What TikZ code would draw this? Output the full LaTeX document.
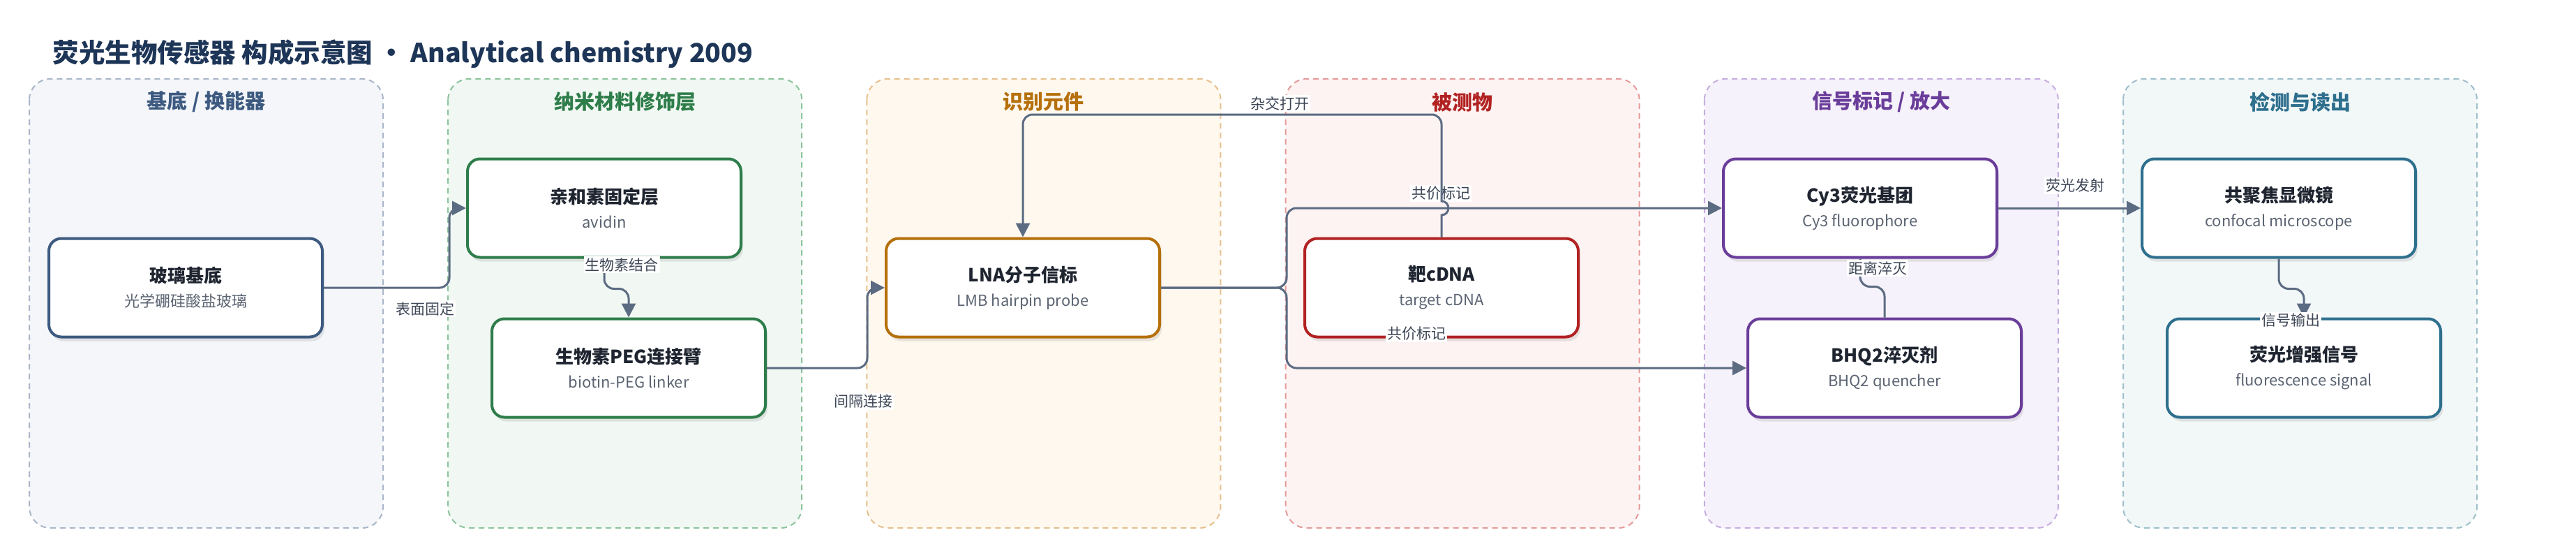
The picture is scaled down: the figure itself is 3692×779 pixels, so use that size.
\documentclass[tikz,border=0pt]{standalone}
\usepackage{fontspec}
\setmainfont{Noto Sans CJK SC}
\usetikzlibrary{arrows.meta,shadows}

\definecolor{ink}{HTML}{1D3557}
\definecolor{boxtext}{HTML}{1F2530}
\definecolor{subgray}{HTML}{5B6472}
\definecolor{linkcol}{HTML}{5B6B82}
\definecolor{labcol}{HTML}{3D4656}
\definecolor{c1}{HTML}{3D5A80}\definecolor{fill1}{HTML}{F4F6FA}\definecolor{line1}{HTML}{AAB6C8}
\definecolor{c2}{HTML}{2E7D4A}\definecolor{fill2}{HTML}{F1F8F3}\definecolor{line2}{HTML}{8CC49D}
\definecolor{c3}{HTML}{B5700B}\definecolor{fill3}{HTML}{FEF8EF}\definecolor{line3}{HTML}{E6C08D}
\definecolor{c4}{HTML}{B22222}\definecolor{fill4}{HTML}{FDF3F2}\definecolor{line4}{HTML}{E59A9A}
\definecolor{c5}{HTML}{6A3D9A}\definecolor{fill5}{HTML}{F6F2FB}\definecolor{line5}{HTML}{C6AEE0}
\definecolor{c6}{HTML}{2E6F8E}\definecolor{fill6}{HTML}{F2F7F8}\definecolor{line6}{HTML}{9FC0CC}

\newcommand{\boxtext}[2]{{\fontsize{26}{35}\selectfont\bfseries #1}\\{\color{subgray}#2}}

\begin{document}
\begin{tikzpicture}[x=1pt,y=-1pt,
  panel/.style={rounded corners=30pt, dash pattern=on 8pt off 6pt, line width=2pt},
  ptitle/.style={font=\fontsize{29}{34}\selectfont\bfseries},
  box/.style={draw, fill=white, line width=4pt, rounded corners=18pt, minimum width=392pt,
    minimum height=141pt, align=center, text=boxtext, font=\fontsize{22}{35}\selectfont,
    drop shadow={opacity=0.18, shadow xshift=3pt, shadow yshift=-6pt}},
  link/.style={draw=linkcol, line width=3pt, rounded corners=14pt},
  arr/.style={link, -{Triangle[length=20pt,width=20pt]}},
  elabel/.style={fill=white, text=labcol, font=\fontsize{21}{25}\selectfont, inner sep=2pt}]

\fill[white] (0,0) rectangle (3692,779);
\useasboundingbox (0,0) rectangle (3692,779);

\node[anchor=west, text=ink, font=\fontsize{37.5}{44}\selectfont\bfseries] (title) at (72,77)
  {荧光生物传感器 构成示意图 • Analytical chemistry 2009};

\foreach \ttl [count=\i] in {基底 / 换能器, 纳米材料修饰层, 识别元件, 被测物, 信号标记 / 放大, 检测与读出}
{
  \pgfmathsetmacro{\px}{42+600.2*(\i-1)}
  \draw[panel, fill=fill\i, draw=line\i] (\px,113) rectangle ++(507,643);
  \node[ptitle, text=c\i] (head\i) at (\px+253.5,146) {\ttl};
}

\node[box, draw=c1] (glass)    at (266,412)  {\boxtext{玻璃基底}{光学硼硅酸盐玻璃}};
\node[box, draw=c2] (avidin)   at (866,298)  {\boxtext{亲和素固定层}{avidin}};
\node[box, draw=c2] (biotin)   at (901,527)  {\boxtext{生物素PEG连接臂}{biotin-PEG linker}};
\node[box, draw=c3] (lna)      at (1466,412) {\boxtext{LNA分子信标}{LMB hairpin probe}};
\node[box, draw=c4] (target)   at (2066,412) {\boxtext{靶cDNA}{target cDNA}};
\node[box, draw=c5] (cy3)      at (2666,298) {\boxtext{Cy3荧光基团}{Cy3 fluorophore}};
\node[box, draw=c5] (bhq)      at (2701,527) {\boxtext{BHQ2淬灭剂}{BHQ2 quencher}};
\node[box, draw=c6] (confocal) at (3266,298) {\boxtext{共聚焦显微镜}{confocal microscope}};
\node[box, draw=c6] (signal)   at (3302,527) {\boxtext{荧光增强信号}{fluorescence signal}};

\draw[arr] (glass.east) -- ++(180,0) |- (avidin.west);
\draw[arr] (avidin.south) -- ++(0,43) -| (biotin.north);
\draw[arr] (biotin.east) -- ++(144,0) |- (lna.west);
\draw[arr] (lna.east) -- ++(180,0) |- (cy3.west);
\draw[arr] (lna.east) -- ++(180,0) |- (bhq.west);
\draw[arr] (cy3.east) -- (confocal.west);
\draw[link] (bhq.north) -- ++(0,-44) -| (cy3.south);
\draw[arr] (confocal.south) -- ++(0,43) -| (signal.north);

\node[elabel] (l1) at (609,442)  {表面固定};
\node[elabel] (l2) at (891,379)  {生物素结合};
\node[elabel] (l3) at (1237,575) {间隔连接};
\node[elabel] (l5) at (2065,277) {共价标记};
\node[elabel] (l6) at (2030,478) {共价标记};
\node[elabel] (l7) at (2974,266) {荧光发射};
\node[elabel] (l8) at (2691,384) {距离淬灭};
\node[elabel] (l9) at (3283,459) {信号输出};
\node[elabel] (l4) at (1834,148) {杂交打开};

\draw[arr, sharp corners] (target.north) -- (2066,308)
  .. controls (2079,308) and (2079,288) .. (2066,288) -- (2066,200)
  [rounded corners=14pt] -- (2066,164) -| (lna.north);
\end{tikzpicture}
\end{document}
